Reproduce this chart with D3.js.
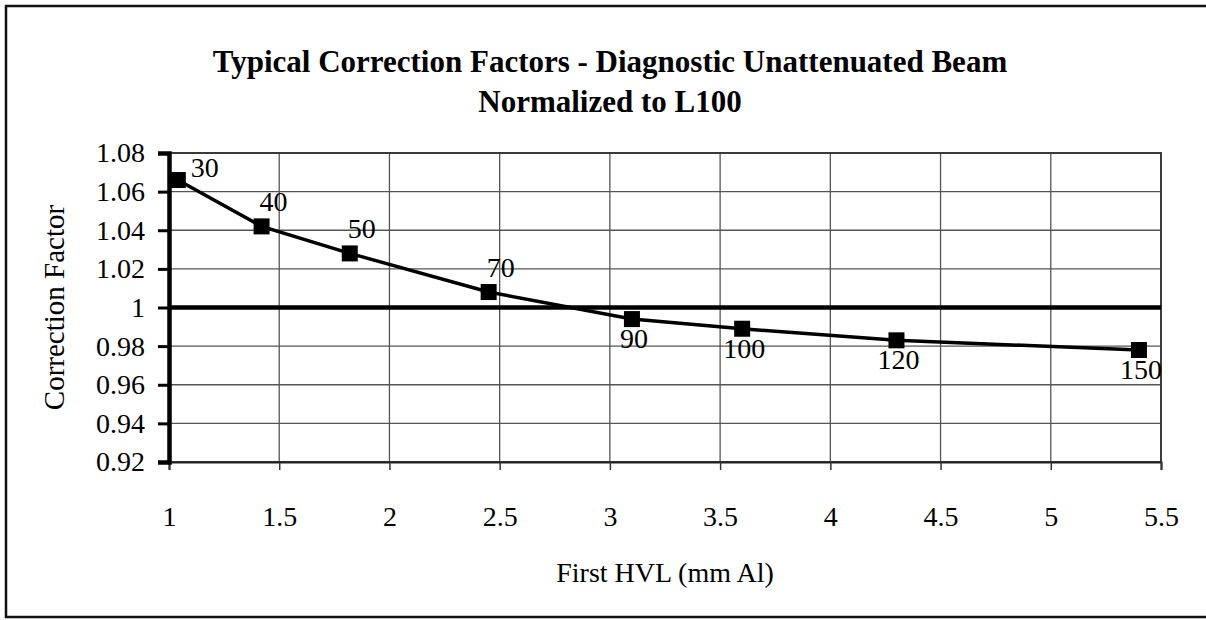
<!DOCTYPE html>
<html>
<head>
<meta charset="utf-8">
<script src="https://cdn.jsdelivr.net/npm/d3@7"></script>
<style>
  body { margin: 0; background: #fff; }
  text { font-family: "Liberation Serif", "Times New Roman", serif; fill: #000; }
</style>
</head>
<body>
<svg id="chart"></svg>
<script>
// Data
const kvLabels = ["30", "40", "50", "70", "90", "100", "120", "150"];
const hvl = [1.04, 1.42, 1.82, 2.45, 3.10, 3.60, 4.30, 5.40];
const factor = [1.066, 1.042, 1.028, 1.008, 0.994, 0.989, 0.983, 0.978];
const xTicks = [1, 1.5, 2, 2.5, 3, 3.5, 4, 4.5, 5, 5.5];
const yTicks = [0.92, 0.94, 0.96, 0.98, 1, 1.02, 1.04, 1.06, 1.08];

const width = 1206;
const height = 620;
const plot = { left: 169, right: 1161, top: 153, bottom: 462 };

const svg = d3.select("#chart")
    .attr("width", width)
    .attr("height", height);

// outer frame
svg.append("rect")
    .attr("x", 6).attr("y", 6)
    .attr("width", 1210).attr("height", 611)
    .attr("fill", "none")
    .attr("stroke", "#111")
    .attr("stroke-width", 2.5);

const x = d3.scaleLinear().domain([1, 5.5]).range([plot.left, plot.right]);
const y = d3.scaleLinear().domain([0.92, 1.08]).range([plot.bottom, plot.top]);

// gridlines
svg.append("g")
    .selectAll("line.h")
    .data(yTicks)
    .enter().append("line")
    .attr("x1", plot.left).attr("x2", plot.right)
    .attr("y1", d => y(d)).attr("y2", d => y(d))
    .attr("stroke", "#555")
    .attr("stroke-width", 1.3);

svg.append("g")
    .selectAll("line.v")
    .data(xTicks)
    .enter().append("line")
    .attr("x1", d => x(d)).attr("x2", d => x(d))
    .attr("y1", plot.top).attr("y2", plot.bottom)
    .attr("stroke", "#555")
    .attr("stroke-width", 1.3);

// plot border (top, right)
svg.append("rect")
    .attr("x", plot.left).attr("y", plot.top)
    .attr("width", plot.right - plot.left)
    .attr("height", plot.bottom - plot.top)
    .attr("fill", "none")
    .attr("stroke", "#333")
    .attr("stroke-width", 1.8);

// x axis
const xAxis = svg.append("g")
    .attr("transform", `translate(0,${plot.bottom})`)
    .call(d3.axisBottom(x).tickValues(xTicks).tickSize(8).tickPadding(36).tickFormat(d3.format("")));
xAxis.select(".domain").attr("stroke", "#222").attr("stroke-width", 2);
xAxis.selectAll(".tick line").attr("stroke", "#333").attr("stroke-width", 1.5);
xAxis.selectAll(".tick text")
    .style("font-family", '"Liberation Serif", serif')
    .style("font-size", "28px")
    .attr("fill", "#000");

// y axis
const yAxis = svg.append("g")
    .attr("transform", `translate(${plot.left},0)`)
    .call(d3.axisLeft(y).tickValues(yTicks).tickSize(11).tickPadding(13).tickFormat(d3.format("")));
yAxis.select(".domain").attr("stroke", "#000").attr("stroke-width", 4.5);
yAxis.selectAll(".tick line").attr("stroke", "#000").attr("stroke-width", 3);
yAxis.selectAll(".tick text")
    .style("font-family", '"Liberation Serif", serif')
    .style("font-size", "28px")
    .attr("fill", "#000");

// reference line at 1
svg.append("line")
    .attr("x1", plot.left).attr("x2", plot.right)
    .attr("y1", y(1)).attr("y2", y(1))
    .attr("stroke", "#000")
    .attr("stroke-width", 4.5);

// data line
const pts = hvl.map((d, i) => ({ x: d, y: factor[i], label: kvLabels[i] }));
const line = d3.line().x(d => x(d.x)).y(d => y(d.y));

svg.append("path")
    .datum(pts)
    .attr("d", line)
    .attr("fill", "none")
    .attr("stroke", "#000")
    .attr("stroke-width", 3.5);

svg.append("g")
    .selectAll("rect")
    .data(pts)
    .enter().append("rect")
    .attr("x", d => x(d.x) - 8)
    .attr("y", d => y(d.y) - 8)
    .attr("width", 16)
    .attr("height", 16)
    .attr("fill", "#000");

// point labels: first to the upper right, rising part above, falling part below
svg.append("g")
    .selectAll("text")
    .data(pts)
    .enter().append("text")
    .attr("x", (d, i) => i === 0 ? x(d.x) + 13 : x(d.x) + (i < 4 ? 12 : 2))
    .attr("y", (d, i) => i === 0 ? y(d.y) - 3 : y(d.y) + (i < 4 ? -15 : 29))
    .attr("text-anchor", (d, i) => i === 0 ? "start" : "middle")
    .style("font-size", "28px")
    .text(d => d.label);

// titles
svg.append("text")
    .attr("x", 610).attr("y", 72)
    .attr("text-anchor", "middle")
    .style("font-size", "31px")
    .style("font-weight", "bold")
    .text("Typical Correction Factors - Diagnostic Unattenuated Beam");

svg.append("text")
    .attr("x", 610).attr("y", 112)
    .attr("text-anchor", "middle")
    .style("font-size", "31px")
    .style("font-weight", "bold")
    .text("Normalized to L100");

svg.append("text")
    .attr("x", 665).attr("y", 582)
    .attr("text-anchor", "middle")
    .style("font-size", "28px")
    .text("First HVL (mm Al)");

svg.append("text")
    .attr("transform", `translate(64,${(plot.top + plot.bottom) / 2}) rotate(-90)`)
    .attr("text-anchor", "middle")
    .style("font-size", "29px")
    .text("Correction Factor");
</script>
</body>
</html>
